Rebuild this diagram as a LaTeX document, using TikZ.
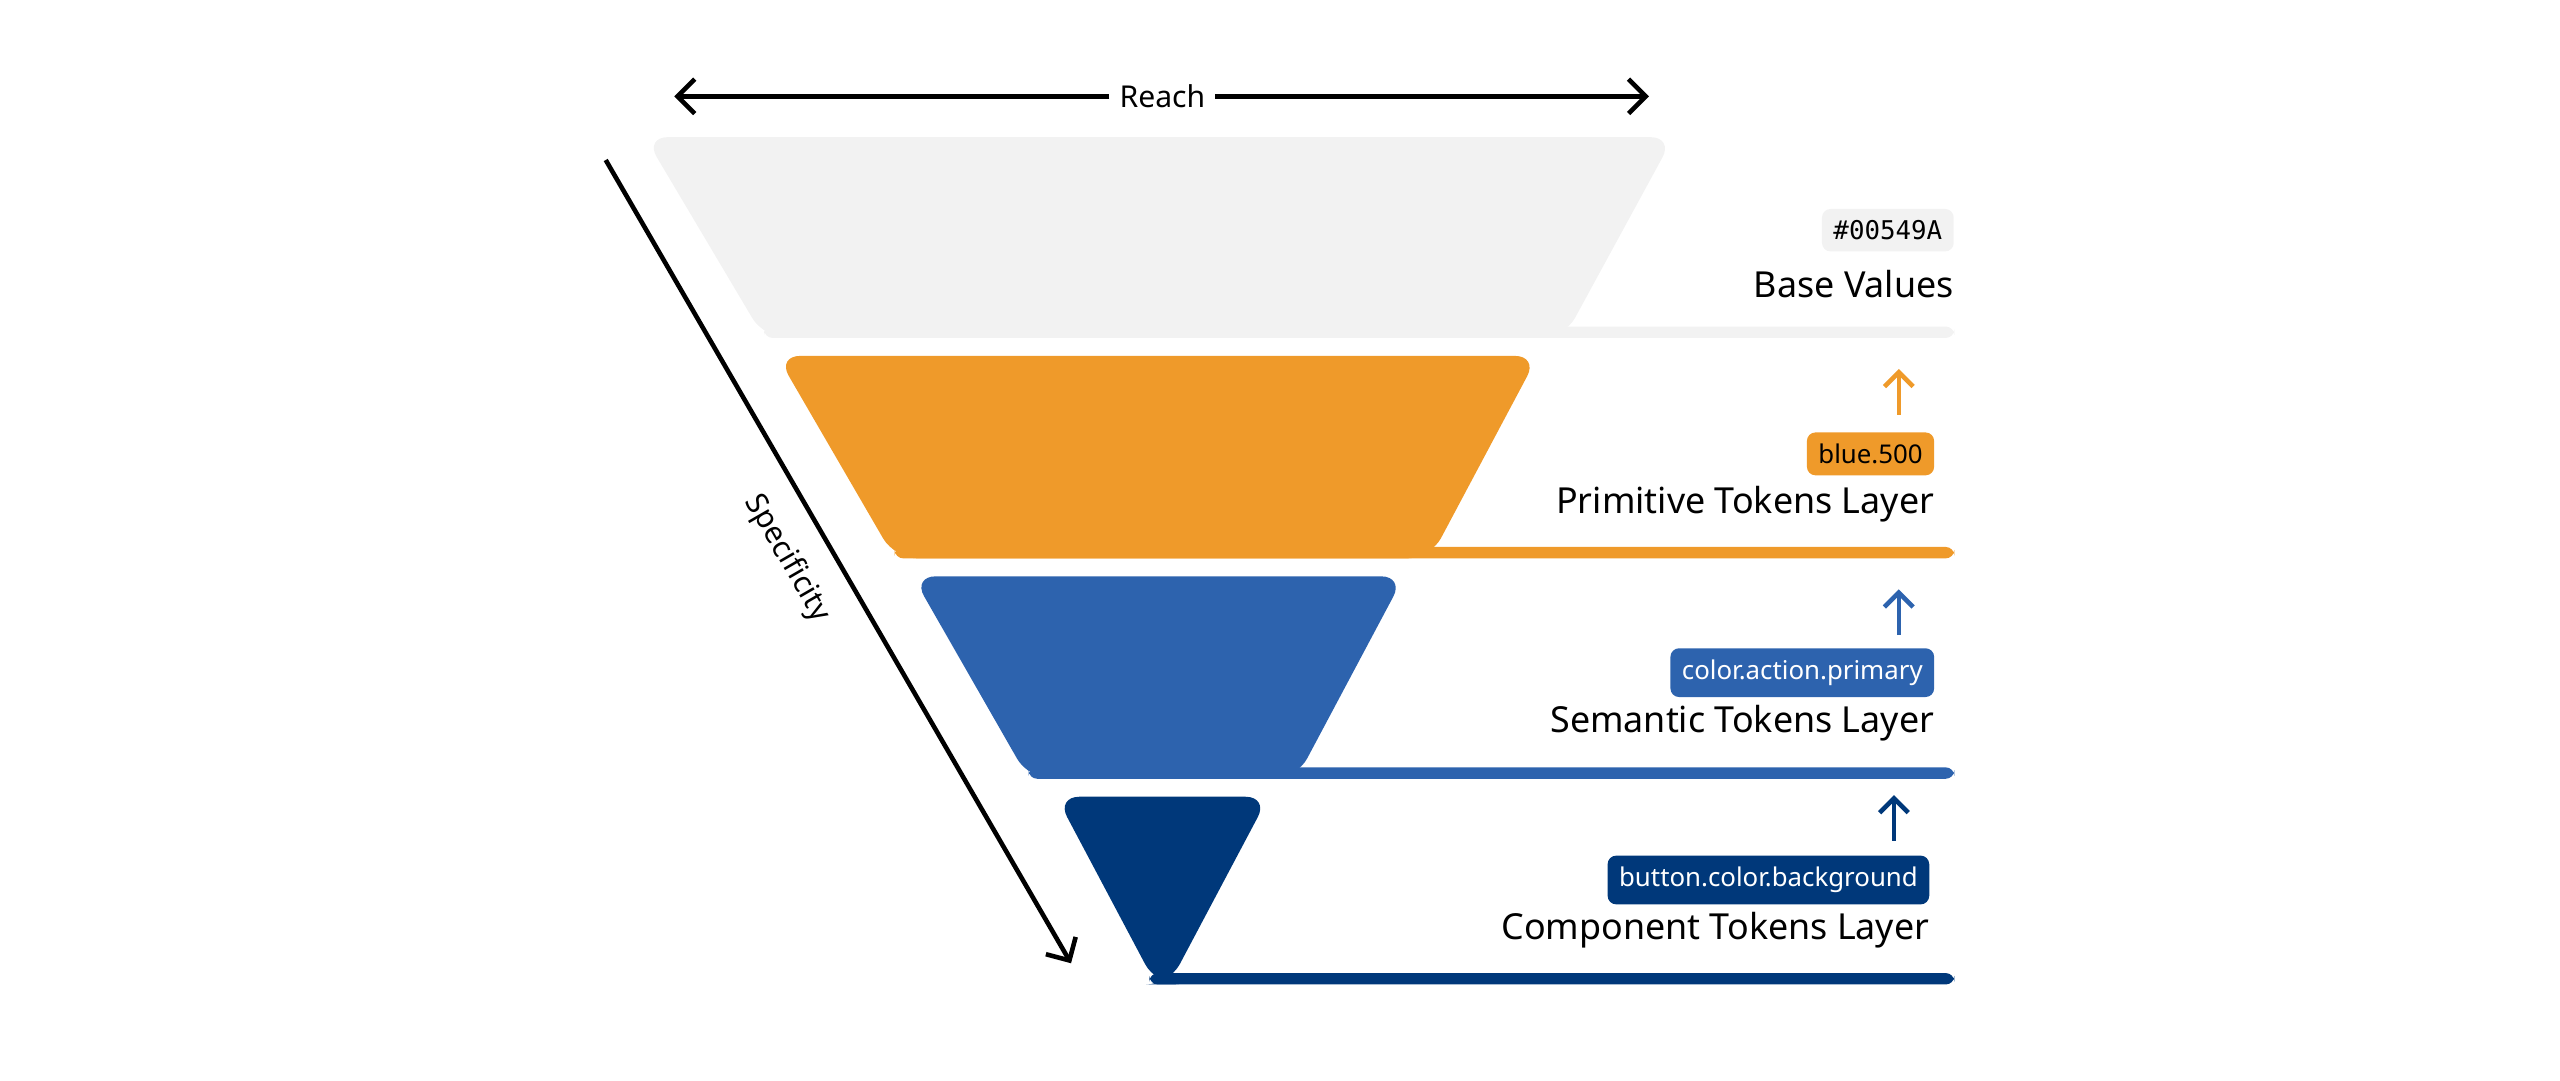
\documentclass[tikz,border=0pt]{standalone}
\usepackage{fontspec}
\setmainfont{Noto Sans}
\setmonofont{DejaVu Sans Mono}
\usetikzlibrary{arrows.meta}
\definecolor{baseGray}{HTML}{F2F2F2}
\definecolor{primOrange}{HTML}{EF9A2A}
\definecolor{semBlue}{HTML}{2D63AE}
\definecolor{compBlue}{HTML}{00387A}
\begin{document}
\begin{tikzpicture}[x=0.02cm,y=-0.02cm]
        \tikzstyle{layer}=[rounded corners=8]
        \tikzstyle{bar}=[rounded corners=3]
        \tikzstyle{tag}=[rounded corners=3pt,inner sep=4pt,font=\fontsize{9}{10}\selectfont,anchor=east]
        \tikzstyle{layername}=[font=\fontsize{12.5}{14}\selectfont,anchor=east,inner sep=0pt]
        \tikzstyle{up}=[-{Straight Barb[length=5pt,width=10pt]},line width=1.6pt]
        \useasboundingbox (0,0) rectangle (1568,662);

        % layers
        \fill[baseGray,layer] (395,84) -- (1025,84) -- (958,207) -- (468,207) -- cycle;
        \fill[baseGray,bar] (468,200) rectangle (1197,207);
        \fill[primOrange,layer] (476,218) -- (942,218) -- (876,342) -- (548,342) -- cycle;
        \fill[primOrange,bar] (548,335) rectangle (1197,342);
        \fill[semBlue,layer] (559,353) -- (860,353) -- (794,477) -- (630,477) -- cycle;
        \fill[semBlue,bar] (630,470) rectangle (1197,477);
        \fill[compBlue,layer] (647,488) -- (777,488) -- (716,603) -- (708,603) -- cycle;
        \fill[compBlue,bar] (704,596) rectangle (1197,603);

        % reach / specificity
        \node[font=\bfseries\fontsize{10.5}{12}\selectfont] (reach) at (712,59) {Reach};
        \coordinate (rl) at (413,59);
        \coordinate (rr) at (1010,59);
        \draw[-{Straight Barb[length=6pt,width=12pt]},line width=1.6pt] (reach.west) -- (rl);
        \draw[-{Straight Barb[length=6pt,width=12pt]},line width=1.6pt] (reach.east) -- (rr);
        \coordinate (s1) at (371,98);
        \coordinate (s2) at (656,590);
        \draw[-{Straight Barb[length=6pt,width=12pt]},line width=1.6pt] (s1) -- (s2);
        \node[rotate=-60,font=\bfseries\fontsize{10.5}{12}\selectfont] (spec) at (482,342) {Specificity};

        % labels
        \node[tag,fill=baseGray,font=\ttfamily\fontsize{9}{10}\selectfont] (hex) at (1197,141) {\#00549A};
        \node[layername] (base) at (1197,174) {Base Values};

        \node[tag,fill=primOrange] (prim) at (1185,278) {blue.500};
        \node[layername] (primName) at (1185,309) {Primitive Tokens Layer};
        \coordinate (p1) at (1163,254); \coordinate (p2) at (1163,226);
        \draw[up,primOrange] (p1) -- (p2);

        \node[tag,fill=semBlue,text=white] (sem) at (1185,412) {color.action.primary};
        \node[layername] (semName) at (1185,443) {Semantic Tokens Layer};
        \coordinate (q1) at (1163,389); \coordinate (q2) at (1163,361);
        \draw[up,semBlue] (q1) -- (q2);

        \node[tag,fill=compBlue,text=white] (comp) at (1182,539) {button.color.background};
        \node[layername] (compName) at (1182,570) {Component Tokens Layer};
        \coordinate (c1) at (1160,515); \coordinate (c2) at (1160,487);
        \draw[up,compBlue] (c1) -- (c2);
\end{tikzpicture}
\end{document}
